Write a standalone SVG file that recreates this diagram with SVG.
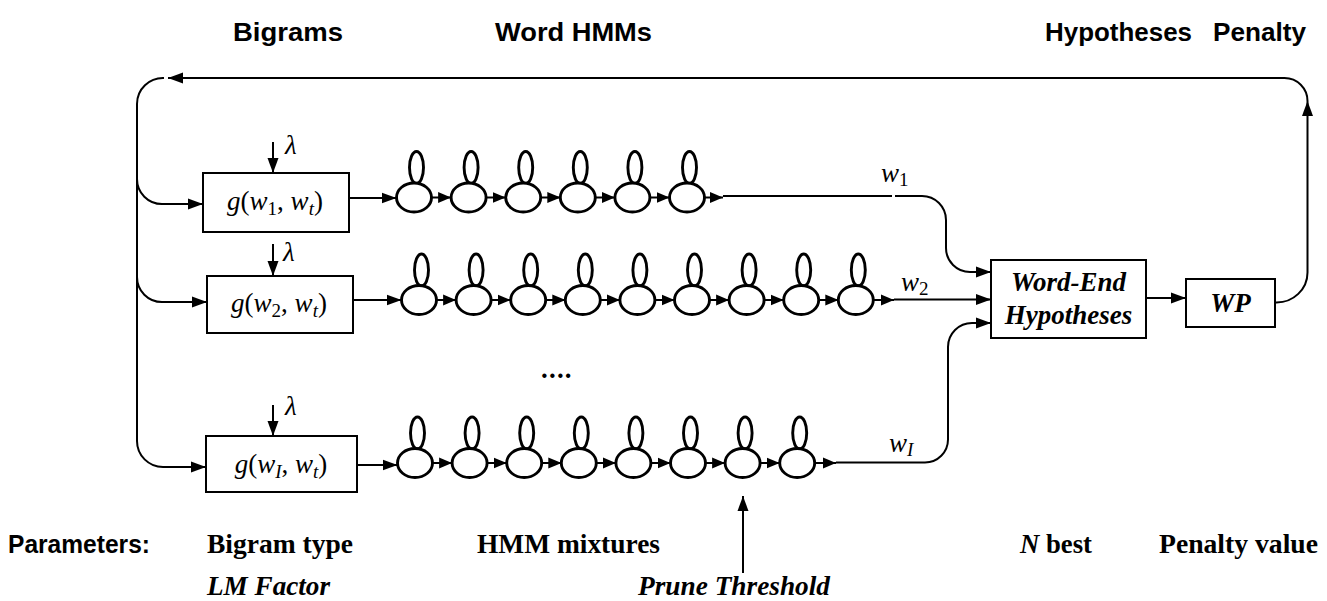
<svg xmlns="http://www.w3.org/2000/svg" width="1327" height="601" viewBox="0 0 1327 601">
  <style>
    .ln { fill: none; stroke: #000; stroke-width: 2; }
    .st { fill: #fff; stroke: #000; stroke-width: 2.9; }
    .box { fill: #fff; stroke: #000; stroke-width: 2; }
    .hd { font-family: "Liberation Sans", Arial, sans-serif; font-weight: bold; font-size: 26px; fill: #000; }
    .tm { font-family: "Liberation Serif", "Times New Roman", serif; font-size: 27px; fill: #000; }
    .bd { font-weight: bold; }
    .it { font-style: italic; }
    .sub { font-size: 19px; }
  </style>
  <defs>
    <marker id="ah" markerUnits="userSpaceOnUse" markerWidth="15" markerHeight="12" refX="15" refY="6" orient="auto">
      <path d="M0,0.5 L15,6 L0,11.5 z" fill="#000"/>
    </marker>
    <marker id="ahs" markerUnits="userSpaceOnUse" markerWidth="13" markerHeight="12" refX="13" refY="6" orient="auto">
      <path d="M0,0.5 L13,6 L0,11.5 z" fill="#000"/>
    </marker>
    <!-- one HMM state with its self loop, centred on (0,0) -->
    <g id="state">
      <ellipse cx="2.5" cy="-30" rx="7" ry="16" class="st"/>
      <ellipse cx="0" cy="0" rx="17.5" ry="14.5" class="st"/>
    </g>
  </defs>

  <!-- column headings -->
  <g id="headings">
    <text x="233" y="41" class="hd" textLength="110" lengthAdjust="spacingAndGlyphs">Bigrams</text>
    <text x="495" y="41" class="hd" textLength="157" lengthAdjust="spacingAndGlyphs">Word HMMs</text>
    <text x="1045" y="41" class="hd" textLength="147" lengthAdjust="spacingAndGlyphs">Hypotheses</text>
    <text x="1213" y="41" class="hd" textLength="93" lengthAdjust="spacingAndGlyphs">Penalty</text>
  </g>

  <!-- connectors -->
  <g id="connectors">
    <!-- feedback loop from WP back to the bigram boxes -->
    <path class="ln" d="M1276,302.5 A31,30 0 0 0 1307.5,272.5 V101" marker-end="url(#ah)"/>
    <path class="ln" d="M1307.5,101 A23,23 0 0 0 1284.5,78 H168" marker-end="url(#ah)"/>
    <path class="ln" d="M164,78 A26,26 0 0 0 137,104 V441 A26,26 0 0 0 163,467 H206" marker-end="url(#ah)"/>
    <path class="ln" d="M137,179 A25,25 0 0 0 162,204 H203" marker-end="url(#ah)"/>
    <path class="ln" d="M137,277 A25,25 0 0 0 162,302 H207" marker-end="url(#ah)"/>

    <!-- lambda inputs -->
    <path class="ln" d="M273,142 V173" marker-end="url(#ah)"/>
    <path class="ln" d="M273,244 V276" marker-end="url(#ah)"/>
    <path class="ln" d="M273,405 V436" marker-end="url(#ah)"/>

    <!-- bigram box to first state -->
    <path class="ln" d="M349,198 H396.5" marker-end="url(#ah)"/>
    <path class="ln" d="M353,300 H401.5" marker-end="url(#ah)"/>
    <path class="ln" d="M357,465 H397.5" marker-end="url(#ah)"/>

    <!-- last state to word-end hypotheses -->
    <path class="ln" d="M704,197.5 H723" marker-end="url(#ahs)"/>
    <path class="ln" d="M723,196 H892 M895,196 H922 A24,24 0 0 1 946,220 V248 A24,24 0 0 0 970,272 H991" marker-end="url(#ah)"/>
    <path class="ln" d="M873,300 H894" marker-end="url(#ahs)"/>
    <path class="ln" d="M894,299.5 H991" marker-end="url(#ah)"/>
    <path class="ln" d="M814,463 H836" marker-end="url(#ahs)"/>
    <path class="ln" d="M836,462.5 H925 A23,23 0 0 0 948,439.5 V347 A24,24 0 0 1 972,323 H991" marker-end="url(#ah)"/>

    <!-- hypotheses to WP -->
    <path class="ln" d="M1146,298 H1186" marker-end="url(#ah)"/>

    <!-- prune threshold input -->
    <path class="ln" d="M743,573 V496" marker-end="url(#ah)"/>
  </g>

  <!-- bigram boxes -->
  <g id="bigram1">
    <rect x="203" y="173" width="146" height="59" class="box"/>
    <text x="275" y="210" text-anchor="middle" class="tm"><tspan class="it">g</tspan>(<tspan class="it">w</tspan><tspan dy="5" class="sub">1</tspan><tspan dy="-5">, </tspan><tspan class="it">w</tspan><tspan dy="5" class="sub it">t</tspan><tspan dy="-5">)</tspan></text>
    <text x="285" y="154" class="tm it">λ</text>
  </g>
  <g id="bigram2">
    <rect x="207" y="276" width="146" height="57" class="box"/>
    <text x="279" y="312" text-anchor="middle" class="tm"><tspan class="it">g</tspan>(<tspan class="it">w</tspan><tspan dy="5" class="sub">2</tspan><tspan dy="-5">, </tspan><tspan class="it">w</tspan><tspan dy="5" class="sub it">t</tspan><tspan dy="-5">)</tspan></text>
    <text x="283" y="261" class="tm it">λ</text>
  </g>
  <g id="bigramI">
    <rect x="206" y="436" width="151" height="56" class="box"/>
    <text x="281" y="473" text-anchor="middle" class="tm"><tspan class="it">g</tspan>(<tspan class="it">w</tspan><tspan dy="5" class="sub it">I</tspan><tspan dy="-5">, </tspan><tspan class="it">w</tspan><tspan dy="5" class="sub it">t</tspan><tspan dy="-5">)</tspan></text>
    <text x="285" y="415" class="tm it">λ</text>
  </g>

  <!-- word HMM 1: six states -->
  <g id="hmm1">
    <path class="ln" d="M431,197.5 H451.1" marker-end="url(#ahs)"/>
    <path class="ln" d="M485.6,197.5 H505.7" marker-end="url(#ahs)"/>
    <path class="ln" d="M540.2,197.5 H560.3" marker-end="url(#ahs)"/>
    <path class="ln" d="M594.8,197.5 H614.9" marker-end="url(#ahs)"/>
    <path class="ln" d="M649.4,197.5 H669.5" marker-end="url(#ahs)"/>
    <use href="#state" x="414" y="197.5"/>
    <use href="#state" x="468.6" y="197.5"/>
    <use href="#state" x="523.2" y="197.5"/>
    <use href="#state" x="577.8" y="197.5"/>
    <use href="#state" x="632.4" y="197.5"/>
    <use href="#state" x="687" y="197.5"/>
    <text x="881" y="182" class="tm"><tspan class="it">w</tspan><tspan dy="4" class="sub">1</tspan></text>
  </g>

  <!-- word HMM 2: nine states -->
  <g id="hmm2">
    <path class="ln" d="M436,300 H456.1" marker-end="url(#ahs)"/>
    <path class="ln" d="M490.6,300 H510.7" marker-end="url(#ahs)"/>
    <path class="ln" d="M545.2,300 H565.3" marker-end="url(#ahs)"/>
    <path class="ln" d="M599.8,300 H619.9" marker-end="url(#ahs)"/>
    <path class="ln" d="M654.4,300 H674.5" marker-end="url(#ahs)"/>
    <path class="ln" d="M709,300 H729.1" marker-end="url(#ahs)"/>
    <path class="ln" d="M763.6,300 H783.7" marker-end="url(#ahs)"/>
    <path class="ln" d="M818.2,300 H838.3" marker-end="url(#ahs)"/>
    <use href="#state" x="419" y="300"/>
    <use href="#state" x="473.6" y="300"/>
    <use href="#state" x="528.2" y="300"/>
    <use href="#state" x="582.8" y="300"/>
    <use href="#state" x="637.4" y="300"/>
    <use href="#state" x="692" y="300"/>
    <use href="#state" x="746.6" y="300"/>
    <use href="#state" x="801.2" y="300"/>
    <use href="#state" x="855.8" y="300"/>
    <text x="901" y="291" class="tm"><tspan class="it">w</tspan><tspan dy="4" class="sub">2</tspan></text>
  </g>

  <text x="541" y="378" class="tm bd" font-size="28" letter-spacing="1.2">....</text>

  <!-- word HMM I: eight states -->
  <g id="hmmI">
    <path class="ln" d="M432,463 H452.1" marker-end="url(#ahs)"/>
    <path class="ln" d="M486.6,463 H506.7" marker-end="url(#ahs)"/>
    <path class="ln" d="M541.2,463 H561.3" marker-end="url(#ahs)"/>
    <path class="ln" d="M595.8,463 H615.9" marker-end="url(#ahs)"/>
    <path class="ln" d="M650.4,463 H670.5" marker-end="url(#ahs)"/>
    <path class="ln" d="M705,463 H725.1" marker-end="url(#ahs)"/>
    <path class="ln" d="M759.6,463 H779.7" marker-end="url(#ahs)"/>
    <use href="#state" x="415" y="463"/>
    <use href="#state" x="469.6" y="463"/>
    <use href="#state" x="524.2" y="463"/>
    <use href="#state" x="578.8" y="463"/>
    <use href="#state" x="633.4" y="463"/>
    <use href="#state" x="688" y="463"/>
    <use href="#state" x="742.6" y="463"/>
    <use href="#state" x="797.2" y="463"/>
    <text x="889" y="452" class="tm"><tspan class="it">w</tspan><tspan dy="4" class="sub it">I</tspan></text>
  </g>

  <g id="wordEnd">
    <rect x="991" y="260" width="155" height="78" class="box"/>
    <text x="1068.5" y="291" text-anchor="middle" class="tm bd it" font-size="28">Word-End</text>
    <text x="1068.5" y="324" text-anchor="middle" class="tm bd it" font-size="28">Hypotheses</text>
  </g>

  <g id="wp">
    <rect x="1186" y="279" width="89" height="48" class="box"/>
    <text x="1230.5" y="312" text-anchor="middle" class="tm bd it" font-size="28">WP</text>
  </g>

  <!-- parameter row -->
  <g id="parameters">
    <text x="8" y="553" class="hd" font-size="24" textLength="142" lengthAdjust="spacingAndGlyphs">Parameters:</text>
    <text x="207" y="553" class="tm bd" textLength="146" lengthAdjust="spacingAndGlyphs">Bigram type</text>
    <text x="477" y="553" class="tm bd" textLength="183" lengthAdjust="spacingAndGlyphs">HMM mixtures</text>
    <text x="1020" y="553" class="tm bd" textLength="72" lengthAdjust="spacingAndGlyphs"><tspan class="it">N</tspan> best</text>
    <text x="1159" y="553" class="tm bd" textLength="159" lengthAdjust="spacingAndGlyphs">Penalty value</text>
    <text x="207" y="595" class="tm bd it" textLength="123" lengthAdjust="spacingAndGlyphs">LM Factor</text>
    <text x="638" y="595" class="tm bd it" textLength="192" lengthAdjust="spacingAndGlyphs">Prune Threshold</text>
  </g>
</svg>
